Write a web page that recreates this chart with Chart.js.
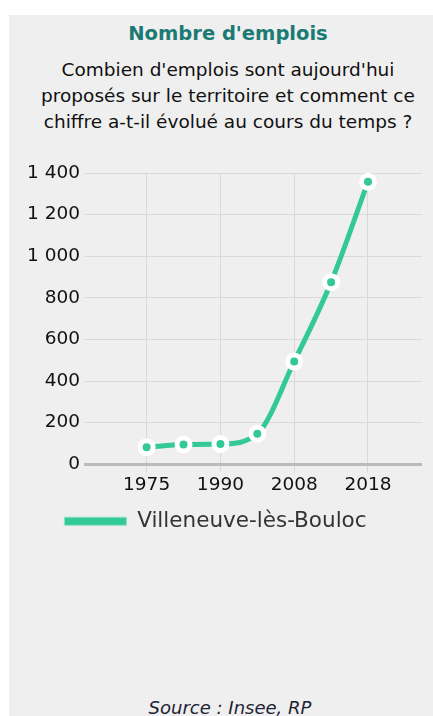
<!DOCTYPE html>
<html>
<head>
<meta charset="utf-8">
<script src="https://cdn.jsdelivr.net/npm/chart.js@4/dist/chart.umd.min.js"></script>
<style>
  body { margin: 0; background: #fff; overflow: hidden; }
  #panel { position: absolute; left: 9px; top: 15px; width: 440px; height: 701px; background: #efefef; font-family: 'DejaVu Sans', sans-serif; }
  #title { position: absolute; left: 0; top: 7px; width: 438px; text-align: center; color: #1b7a73; font-weight: bold; font-size: 19.5px; line-height: 24px; }
  #sub { position: absolute; left: 0; top: 42px; width: 438px; text-align: center; color: #111; font-size: 18.5px; line-height: 26px; }
  #wrap { position: absolute; left: 0; top: 135px; width: 424px; height: 392px; }
  #source { position: absolute; left: 0; top: 682px; width: 442px; text-align: center; color: #1e2233; font-style: italic; font-size: 18px; }
</style>
</head>
<body>
<div id="panel">
  <div id="title">Nombre d'emplois</div>
  <div id="sub">Combien d'emplois sont aujourd'hui<br>proposés sur le territoire et comment ce<br>chiffre a-t-il évolué au cours du temps ?</div>
  <div id="wrap"><canvas id="chart"></canvas></div>
  <div id="source">Source : Insee, RP</div>
</div>
<script>
// recensement years and job counts
var years = ['1975', '1982', '1990', '1999', '2008', '2013', '2018'];
var emplois = [82, 95, 97, 147, 494, 875, 1358];
var yTicks = [0, 200, 400, 600, 800, 1000, 1200, 1400];
var shownYears = [0, 2, 4, 6]; // only every other year is labelled

var green = '#32c994';

var ctx = document.getElementById('chart');

var chart = new Chart(ctx, {
  type: 'line',
  data: {
    datasets: [{
      label: 'Villeneuve-lès-Bouloc',
      data: years.map(function (y, i) { return { x: i, y: emplois[i] }; }),
      borderColor: green,
      backgroundColor: green,
      borderWidth: 5,
      cubicInterpolationMode: 'monotone',
      pointRadius: 6.5,
      pointBorderWidth: 5,
      pointBorderColor: '#fff',
      pointBackgroundColor: green
    }]
  },
  options: {
    responsive: true,
    maintainAspectRatio: false,
    animation: false,
    layout: { padding: { top: 23, right: 11, bottom: 0, left: 0 } },
    scales: {
      x: {
        type: 'linear',
        min: -1.67,
        max: 7.45,
        afterBuildTicks: function (s) {
          s.ticks = shownYears.map(function (v) { return { value: v }; });
        },
        grid: { color: '#d9d9d9', drawTicks: true, tickLength: 8 },
        border: { color: '#bbb', width: 3 },
        ticks: {
          autoSkip: false,
          maxRotation: 0,
          color: '#111',
          font: { family: 'DejaVu Sans', size: 18.5 },
          padding: 2,
          callback: function (v) { return years[v]; }
        }
      },
      y: {
        min: 0,
        max: 1400,
        afterBuildTicks: function (s) {
          s.ticks = yTicks.map(function (v) { return { value: v }; });
        },
        afterFit: function (s) { s.width = 76; },
        grid: { color: '#d9d9d9', drawTicks: false },
        border: { display: false },
        ticks: {
          color: '#111',
          padding: 5,
          font: { family: 'DejaVu Sans', size: 18.5 },
          callback: function (v) { return String(v).replace(/\B(?=(\d{3})+(?!\d))/g, ' '); }
        }
      }
    },
    plugins: {
      tooltip: { enabled: false },
      legend: {
        position: 'bottom',
        labels: {
          boxWidth: 62,
          boxHeight: 8,
          color: '#333',
          padding: 12,
          font: { family: 'DejaVu Sans', size: 21.5 },
          generateLabels: function (c) {
            var items = Chart.defaults.plugins.legend.labels.generateLabels(c);
            items.forEach(function (it) { it.lineWidth = 1; it.strokeStyle = '#8fe0c2'; });
            return items;
          }
        }
      }
    }
  }
});
</script>
</body>
</html>
